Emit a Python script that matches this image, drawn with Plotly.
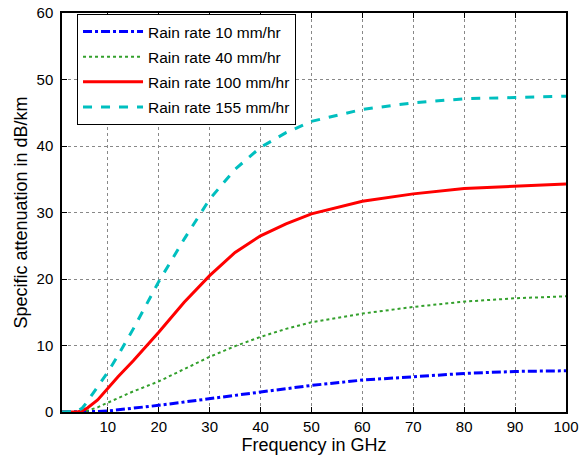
import plotly.graph_objects as go

freq = [1, 2, 3, 4, 5, 6, 8, 10, 12, 15, 20, 25, 30, 35, 40, 45, 50, 60, 70, 80, 90, 100]
rain10 = [0, 0, 0, 0, 0, 0.02, 0.08, 0.15, 0.3, 0.55, 1.0, 1.5, 2.0, 2.6, 3.1, 3.6, 4.0, 4.8, 5.3, 5.8, 6.1, 6.2]
rain40 = [0, 0, 0, 0, 0.05, 0.2, 0.7, 1.4, 2.1, 3.1, 4.6, 6.5, 8.3, 9.9, 11.3, 12.5, 13.5, 14.8, 15.8, 16.6, 17.1, 17.4]
rain100 = [0, 0, 0, 0, 0.2, 0.6, 1.8, 3.6, 5.3, 7.7, 12.0, 16.5, 20.5, 24.0, 26.5, 28.3, 29.8, 31.7, 32.8, 33.6, 34.0, 34.3]
rain155 = [0, 0, 0, 0.1, 0.6, 1.6, 3.8, 6.0, 8.5, 12.5, 19.6, 26.0, 32.0, 36.5, 39.8, 42.0, 43.7, 45.5, 46.5, 47.1, 47.3, 47.5]

series = [
    ("Rain rate 10 mm/hr", rain10, "#0000ff", "dashdot", 3),
    ("Rain rate 40 mm/hr", rain40, "#33a02c", "dot", 2),
    ("Rain rate 100 mm/hr", rain100, "#ff0000", "solid", 3),
    ("Rain rate 155 mm/hr", rain155, "#00bfbf", "dash", 3),
]

fig = go.Figure()
for i, (name, ys, color, dash, w) in enumerate(series):
    fig.add_trace(go.Scatter(x=freq, y=ys, mode="lines", name=name, legendgroup=f"g{i}",
                             line=dict(color=color, dash=dash, width=w)))

axis_common = dict(
    showline=True, linecolor="black", linewidth=1.5, mirror="ticks",
    ticks="inside", ticklen=5, tickcolor="black",
    showgrid=True, gridcolor="#888888", griddash="dot", gridwidth=1,
    zeroline=False, automargin=False,
    tickfont=dict(family="Liberation Sans, Arial", size=15, color="black"),
)

fig.update_layout(
    width=579, height=459,
    margin=dict(l=62, r=13, t=13, b=47),
    paper_bgcolor="white", plot_bgcolor="white",
    font=dict(family="Liberation Sans, Arial", color="black"),
    xaxis=dict(range=[1, 100], tickvals=[10, 20, 30, 40, 50, 60, 70, 80, 90, 100],
               title=dict(text="Frequency in GHz", font=dict(size=18), standoff=4),
               **axis_common),
    yaxis=dict(range=[0, 60], tickvals=[0, 10, 20, 30, 40, 50, 60],
               title=dict(text="Specific attenuation in dB/km", font=dict(size=18), standoff=4),
               ticklabelstandoff=4,
               **axis_common),
    legend=dict(x=0.0298, y=0.9975, xanchor="left", yanchor="top",
                bgcolor="white", bordercolor="black", borderwidth=1,
                font=dict(size=15.5, color="black"), tracegroupgap=2, itemwidth=60,
                entrywidth=225, entrywidthmode="pixels"),
    showlegend=True,
)

fig.write_html("out.html")
